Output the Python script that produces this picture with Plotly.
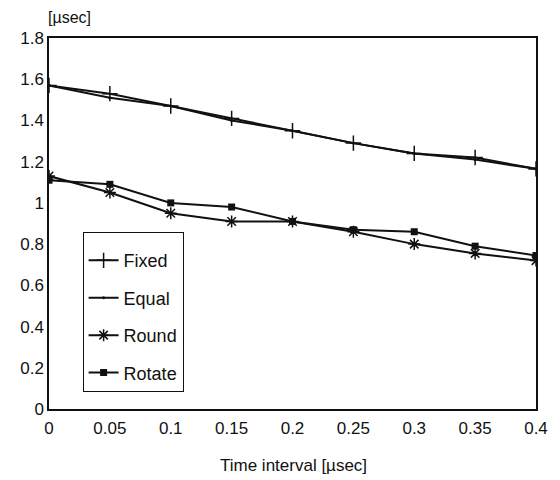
import plotly.graph_objects as go

# Data
time_interval = [0, 0.05, 0.1, 0.15, 0.2, 0.25, 0.3, 0.35, 0.4]
fixed = [1.57, 1.53, 1.47, 1.41, 1.35, 1.29, 1.24, 1.22, 1.165]
equal = [1.57, 1.51, 1.47, 1.40, 1.35, 1.29, 1.24, 1.21, 1.165]
round_ = [1.13, 1.05, 0.95, 0.91, 0.91, 0.86, 0.80, 0.755, 0.72]
rotate = [1.11, 1.09, 1.00, 0.98, 0.91, 0.87, 0.86, 0.79, 0.745]

x_tickvals = [0, 0.05, 0.1, 0.15, 0.2, 0.25, 0.3, 0.35, 0.4]
x_ticktext = ["0", "0.05", "0.1", "0.15", "0.2", "0.25", "0.3", "0.35", "0.4"]
y_tickvals = [0, 0.2, 0.4, 0.6, 0.8, 1.0, 1.2, 1.4, 1.6, 1.8]
y_ticktext = ["0", "0.2", "0.4", "0.6", "0.8", "1", "1.2", "1.4", "1.6", "1.8"]

FONT = "Liberation Sans, Arial, sans-serif"
BLACK = "#111111"

fig = go.Figure()
series = [
    ("Fixed", fixed, dict(symbol="cross-thin", size=11, line=dict(width=1.5, color=BLACK), color=BLACK)),
    ("Equal", equal, dict(symbol="circle", size=3, color=BLACK)),
    ("Round", round_, dict(symbol="asterisk", size=10, line=dict(width=1.5, color=BLACK), color=BLACK)),
    ("Rotate", rotate, dict(symbol="square", size=7, color=BLACK)),
]
for name, vals, marker in series:
    fig.add_trace(go.Scatter(
        x=time_interval, y=vals, name=name, mode="lines+markers",
        line=dict(color=BLACK, width=2), marker=marker,
        legendgroup=name,
    ))

fig.update_layout(
    width=552, height=472,
    margin=dict(l=30, r=12, t=30, b=71),
    paper_bgcolor="white", plot_bgcolor="white",
    font=dict(family=FONT, size=17, color=BLACK),
    showlegend=True,
    legend=dict(
        x=0.069, y=0.477, xanchor="left", yanchor="top",
        bordercolor=BLACK, borderwidth=1, bgcolor="white",
        font=dict(size=18, family=FONT, color=BLACK),
        tracegroupgap=11, traceorder="grouped",
        itemwidth=30,
        title=dict(text=" ", font=dict(size=7)),
    ),
    xaxis=dict(
        range=[0, 0.4], tickvals=x_tickvals, ticktext=x_ticktext,
        showgrid=False, zeroline=False, showline=True, linecolor=BLACK,
        linewidth=1.5, mirror=True, ticks="", ticklen=0,
        ticklabelstandoff=3,
    ),
    yaxis=dict(
        range=[0, 1.8], tickvals=y_tickvals, ticktext=y_ticktext,
        showgrid=False, zeroline=False, showline=True, linecolor=BLACK,
        linewidth=1.5, mirror=True, ticks="", ticklen=0,
    ),
    annotations=[
        dict(text="[µsec]", xref="paper", yref="paper", x=-0.004, y=1.0809,
             xanchor="left", yanchor="top", showarrow=False, borderpad=0,
             font=dict(size=16, family=FONT, color=BLACK)),
        dict(text="Time interval [µsec]", xref="paper", yref="paper", x=0.502, y=-0.151,
             xanchor="center", yanchor="middle", showarrow=False,
             font=dict(size=17, family=FONT, color=BLACK)),
    ],
)

fig.write_html("out.html")
